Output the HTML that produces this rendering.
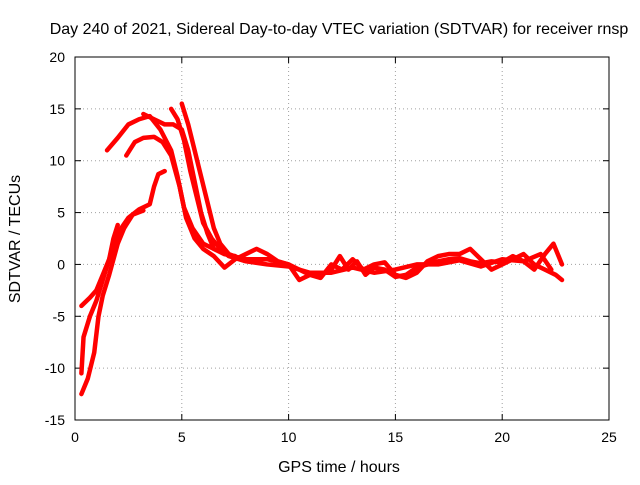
<!DOCTYPE html>
<html><head><meta charset="utf-8"><style>
body{margin:0;background:#fff;}
svg text{font-family:"Liberation Sans",sans-serif;font-size:14px;fill:#000;}
svg text.big{font-size:16px;}
</style></head><body>
<svg width="640" height="480" xmlns="http://www.w3.org/2000/svg">
<rect width="640" height="480" fill="#fff"/>
<text class="big" x="339" y="34" text-anchor="middle">Day 240 of 2021, Sidereal Day-to-day VTEC variation (SDTVAR) for receiver rnsp</text>
<text class="big" x="339" y="472" text-anchor="middle">GPS time / hours</text>
<text class="big" transform="translate(20,239) rotate(-90)" text-anchor="middle">SDTVAR / TECUs</text>
<g id="grid"></g>
<g id="ticks"></g>
<g id="series"></g>
<rect x="75" y="57" width="534" height="363" fill="none" stroke="#000" stroke-width="1"/>
</svg>
<script>
const xTicks=[0,5,10,15,20,25];
const yTicks=[-15,-10,-5,0,5,10,15,20];
const trackA=[[0.3,-4],[0.7,-3.2],[1,-2.5],[1.3,-1],[1.6,0.5],[2,3],[2.5,4.5],[3,5.3],[3.5,5.8],[3.7,7.5],[3.9,8.7],[4.2,9]];
const trackB=[[0.3,-12.5],[0.6,-11],[0.9,-8.5],[1.1,-5],[1.3,-3],[1.6,-1],[2,2],[2.3,3.5],[2.7,4.8],[3.2,5.2]];
const trackC=[[0.3,-10.5],[0.4,-7],[0.7,-5],[1,-3.5],[1.3,-1.5],[1.6,0.5],[1.8,2.5],[2,3.8]];
const trackD=[[1.5,11],[2,12.2],[2.5,13.5],[3,14],[3.5,14.3],[4,13],[4.5,11],[4.8,8.5],[5.1,5.5],[5.5,3.5],[6,2],[6.5,1.5],[7,1],[8,0.5],[9,0.5],[10,0],[10.5,-0.5],[11,-1],[11.5,-1],[12,-0.5],[12.4,0.8],[12.8,-0.5],[13.2,0.3],[13.6,-1],[14,-0.3],[14.5,-0.5],[15,-1.2],[15.5,-1],[16,-0.3],[16.5,0],[17,0.3],[17.5,0.5],[18,0.6],[18.5,0.3],[19,0.1],[19.5,0.3],[20,0.2],[20.5,0.8],[21,0.3],[21.5,-0.5],[22,1],[22.4,2],[22.8,0]];
const trackE=[[2.4,10.5],[2.8,11.8],[3.2,12.2],[3.7,12.3],[4.1,11.8],[4.5,10.5],[4.9,7.5],[5.2,4.5],[5.6,2.5],[6,1.5],[6.5,0.8],[7,-0.3],[7.5,0.5],[8,1],[8.5,1.5],[9,1],[9.5,0.3],[10,0],[10.5,-1.5],[11,-1],[11.5,-1.3],[12,0],[12.5,-0.5],[13,0.5],[13.5,-0.5],[14,0],[14.5,0.2],[15,-1],[15.5,-1.3],[16,-0.8],[16.5,0.3],[17,0.8],[17.5,1],[18,1],[18.5,1.5],[19,0.5],[19.5,-0.5],[20,0],[20.5,0.5],[21,1],[21.5,0],[22,-0.5],[22.5,-1],[22.8,-1.5]];
const trackF=[[4.5,15],[4.8,14],[5.1,12],[5.4,9],[5.7,6.5],[6,4],[6.4,2.5],[6.8,1.5],[7.2,0.8],[8,0.3],[9,0],[10,-0.2],[11,-0.8],[12,-0.8],[13,-0.3],[14,-0.8],[15,-0.5],[16,0],[17,0],[18,0.4],[19,-0.2],[20,0.5],[21,0.3],[21.8,1],[22.3,-0.5]];
const trackG=[[5,15.5],[5.3,13.5],[5.6,11],[5.9,8.5],[6.2,6],[6.5,3.5],[6.8,2],[7.2,1],[7.8,0.5]];
const trackH=[[3.2,14.5],[3.7,14],[4.2,13.5],[4.6,13.5],[5,13],[5.3,11],[5.6,8],[5.9,5],[6.2,3],[6.5,1.5],[7,1],[7.5,0.8]];
const tracks=[trackA,trackB,trackC,trackD,trackE,trackF,trackG,trackH];
const X0=75,X1=609,Y0=420,Y1=57;
function sx(t){return X0+(t-0)/(25-0)*(X1-X0);}
function sy(v){return Y0-(v-(-15))/(20-(-15))*(Y0-Y1);}
const NS="http://www.w3.org/2000/svg";
const grid=document.getElementById('grid'),ticks=document.getElementById('ticks'),ser=document.getElementById('series');
function mk(tag,attrs,parent){const e=document.createElementNS(NS,tag);for(const k in attrs)e.setAttribute(k,attrs[k]);parent.appendChild(e);return e;}
xTicks.forEach(t=>{
 const x=sx(t);
 if(t>0&&t<25){const l=mk('line',{x1:x,y1:Y0,x2:x,y2:Y1,stroke:'#a0a0a0','stroke-dasharray':'1,3'},grid);
 
 }
 mk('line',{x1:x,y1:Y0,x2:x,y2:Y0-6,stroke:'#000'},ticks);
 mk('line',{x1:x,y1:Y1,x2:x,y2:Y1+6,stroke:'#000'},ticks);
 const tx=mk('text',{x:x,y:Y0+22,'text-anchor':'middle'},ticks);tx.textContent=t;
 
 
});
yTicks.forEach(v=>{
 const y=sy(v);
 if(v>-15&&v<20){const l=mk('line',{x1:X0,y1:y,x2:X1,y2:y,stroke:'#a0a0a0','stroke-dasharray':'1,3'},grid);
 
 }
 mk('line',{x1:X0,y1:y,x2:X0+6,y2:y,stroke:'#000'},ticks);
 mk('line',{x1:X1,y1:y,x2:X1-6,y2:y,stroke:'#000'},ticks);
 const tx=mk('text',{x:X0-10,y:y+5,'text-anchor':'end'},ticks);tx.textContent=v;
 
 
});
tracks.forEach((tr,i)=>{
 const p=mk('polyline',{points:tr.map(d=>sx(d[0])+','+sy(d[1])).join(' '),fill:'none',stroke:'#ff0000','stroke-width':4.5,'stroke-linejoin':'round','stroke-linecap':'round'},ser);
 
 
});
</script>
</body></html>
